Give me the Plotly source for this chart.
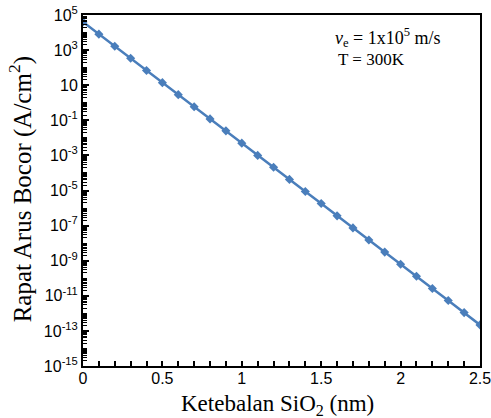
import plotly.graph_objects as go

thickness_nm = [0.0, 0.1, 0.2, 0.3, 0.4, 0.5, 0.6, 0.7, 0.8, 0.9, 1.0, 1.1, 1.2,
                1.3, 1.4, 1.5, 1.6, 1.7, 1.8, 1.9, 2.0, 2.1, 2.2, 2.3, 2.4, 2.5]
leak_current = [4.0e4, 8.1e3, 1.66e3, 3.4e2, 69, 14, 2.9, 0.59, 0.12, 2.5e-2,
                5.0e-3, 1.0e-3, 2.1e-4, 4.3e-5, 8.7e-6, 1.8e-6, 3.6e-7, 7.4e-8,
                1.5e-8, 3.1e-9, 6.3e-10, 1.3e-10, 2.6e-11, 5.4e-12, 1.1e-12, 2.2e-13]

y_tickvals = [1e5, 1e3, 1e1, 1e-1, 1e-3, 1e-5, 1e-7, 1e-9, 1e-11, 1e-13, 1e-15]
y_ticktext = ["10<sup>5</sup>", "10<sup>3</sup>", "10", "10<sup>-1</sup>", "10<sup>-3</sup>",
              "10<sup>-5</sup>", "10<sup>-7</sup>", "10<sup>-9</sup>", "10<sup>-11</sup>",
              "10<sup>-13</sup>", "10<sup>-15</sup>"]
x_tickvals = [0, 0.5, 1, 1.5, 2, 2.5]
x_ticktext = ["0", "0.5", "1", "1.5", "2", "2.5"]

x_title = "Ketebalan SiO<sub>2</sub> (nm)"
y_title = "Rapat Arus Bocor (A/cm<sup>2</sup>)"

blue = "#4a7ebb"
serif = "Liberation Serif, Times New Roman, serif"
sans = "Liberation Sans, Arial, sans-serif"

fig = go.Figure()
fig.add_trace(go.Scatter(
    x=thickness_nm, y=leak_current, mode="lines+markers",
    line=dict(color=blue, width=2.5),
    marker=dict(symbol="diamond", size=7, color=blue),
    showlegend=False,
))

fig.update_layout(
    width=491, height=418,
    margin=dict(l=83, r=11, t=15, b=52),
    paper_bgcolor="white", plot_bgcolor="white",
    font=dict(family=sans, color="black", size=16),
)
fig.update_xaxes(
    range=[0, 2.5], tickvals=x_tickvals, ticktext=x_ticktext,
    ticks="inside", ticklen=5, tickwidth=1.5, tickcolor="black",
    minor=dict(dtick=0.1, ticks="inside", ticklen=5, tickwidth=1.5, tickcolor="black"),
    showline=True, linecolor="black", linewidth=2, mirror=True,
    showgrid=False, zeroline=False, automargin=False,
    ticklabeloverflow="allow", ticklabelstandoff=-3,
    tickfont=dict(family=sans, size=16),
)
fig.update_yaxes(
    type="log", range=[-15, 5], tickvals=y_tickvals, ticktext=y_ticktext,
    ticks="inside", ticklen=6, tickwidth=2, tickcolor="black",
    minor=dict(dtick="D1", ticks="inside", ticklen=4, tickwidth=1, tickcolor="black"),
    showline=True, linecolor="black", linewidth=2, mirror=True,
    showgrid=False, zeroline=False, automargin=False,
    ticklabeloverflow="allow",
    tickfont=dict(family=sans, size=16),
)

# axis titles placed as annotations for precise positioning
fig.add_annotation(
    xref="paper", yref="paper", x=0.491, y=-0.111, xanchor="center", yanchor="middle",
    text=x_title, showarrow=False, font=dict(family=serif, size=23, color="black"),
)
fig.add_annotation(
    xref="paper", yref="paper", x=-0.158, y=0.504, xanchor="center", yanchor="middle",
    text=y_title, textangle=-90, showarrow=False, font=dict(family=serif, size=25, color="black"),
)

fig.add_annotation(
    xref="paper", yref="paper", x=0.63, y=0.935, xanchor="left", yanchor="middle",
    text="<i>v</i><sub>e</sub> = 1x10<sup>5</sup> m/s", showarrow=False,
    font=dict(family=serif, size=18, color="black"),
)
fig.add_annotation(
    xref="paper", yref="paper", x=0.637, y=0.872, xanchor="left", yanchor="middle",
    text="T = 300K", showarrow=False,
    font=dict(family=serif, size=17, color="black"),
)

fig.write_html("out.html", config={"displayModeBar": False},
               post_script="document.body.style.margin='0px';")
